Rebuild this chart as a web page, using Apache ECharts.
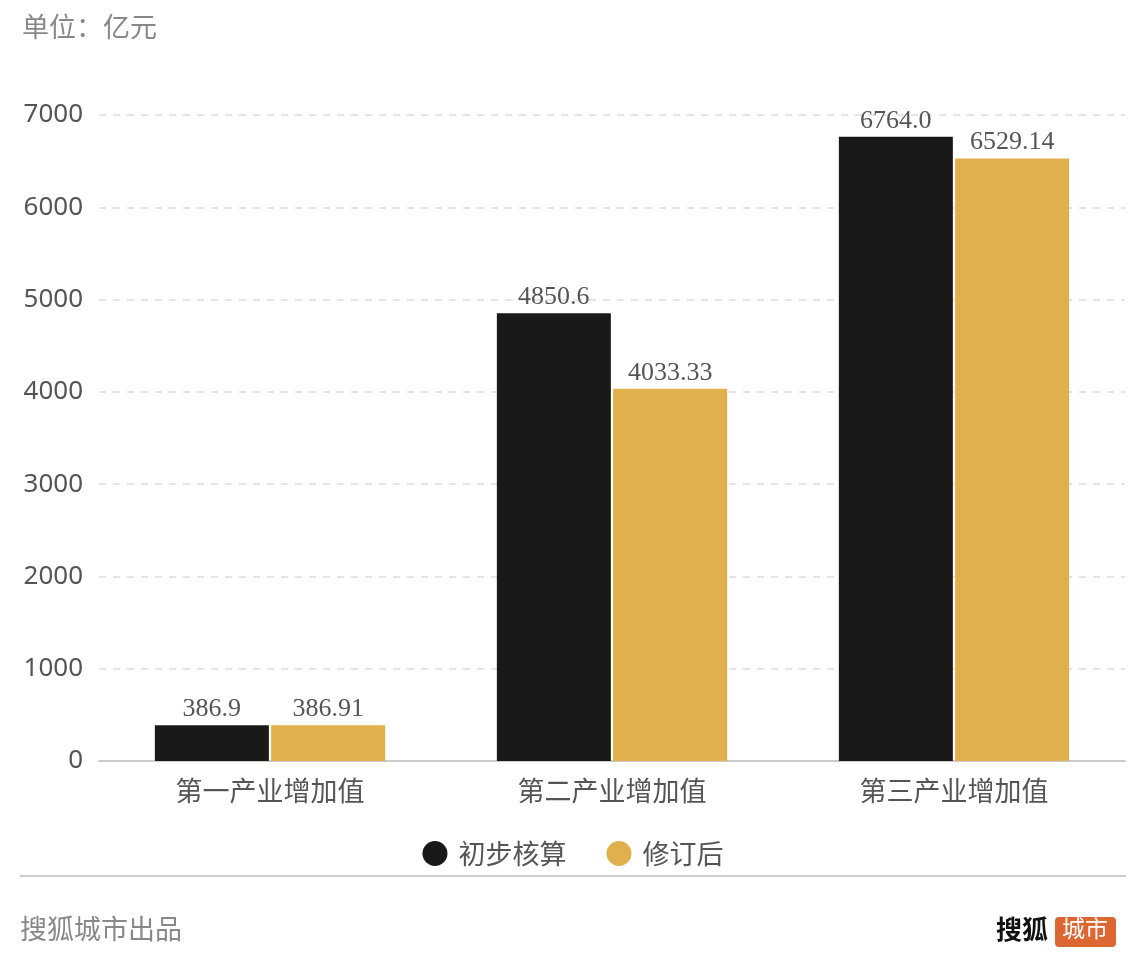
<!DOCTYPE html>
<html><head><meta charset="utf-8">
<script src="https://cdn.jsdelivr.net/npm/echarts@6/dist/echarts.min.js"></script>
<style>html,body{margin:0;padding:0;background:#fff}#c{width:1146px;height:966px}</style>
</head><body><div id="c"></div>
<script>
const categories = ['第一产业增加值', '第二产业增加值', '第三产业增加值'];
const seriesNames = ['初步核算', '修订后'];
const preliminary = [386.9, 4850.6, 6764.0];
const revised = [386.91, 4033.33, 6529.14];
const labelsPrelim = ['386.9', '4850.6', '6764.0'];
const labelsRevised = ['386.91', '4033.33', '6529.14'];

const FONT = '"Noto Sans CJK SC", "Noto Sans", sans-serif';
const chart = echarts.init(document.getElementById('c'), null, {renderer: 'canvas'});
function lbl(arr) {
  return {show: true, position: 'top', distance: 3, color: '#555', fontSize: 26,
    fontFamily: '"Liberation Serif", "DejaVu Serif", serif',
    formatter: p => arr[p.dataIndex]};
}
chart.setOption({
  animation: false,
  textStyle: {fontFamily: FONT},
  grid: {left: 99, right: 21, top: 115, bottom: 205, containLabel: false},
  legend: {
    data: seriesNames, bottom: 94, left: 'center', icon: 'circle', itemWidth: 25, itemHeight: 25,
    itemGap: 40, formatter: n => ' ' + n,
    textStyle: {fontSize: 27, color: '#555', fontFamily: FONT}
  },
  xAxis: {
    type: 'category', data: categories,
    axisLine: {lineStyle: {color: '#ccc', width: 2}},
    axisTick: {alignWithLabel: true, length: 8, lineStyle: {color: '#ccc', width: 2}},
    axisLabel: {fontSize: 27, color: '#555', margin: 16, fontFamily: FONT}
  },
  yAxis: {
    type: 'value', min: 0, max: 7000, interval: 1000,
    axisLine: {show: false}, axisTick: {show: false},
    axisLabel: {fontSize: 26, color: '#555', margin: 16, fontFamily: '"Noto Sans", sans-serif',
      formatter: v => String(v)},
    splitLine: {lineStyle: {color: '#e5e5e5', type: [7, 7], width: 2}}
  },
  series: [
    {name: seriesNames[0], type: 'bar', data: preliminary, barWidth: 114, barGap: '2%',
      itemStyle: {color: '#1a1917'}, label: lbl(labelsPrelim)},
    {name: seriesNames[1], type: 'bar', data: revised, barWidth: 114,
      itemStyle: {color: '#dfb04c'}, label: lbl(labelsRevised)}
  ],
  graphic: [
    {type: 'text', left: 22, top: 13, style: {text: '单位：亿元', fontSize: 27, fill: '#888', fontFamily: FONT}},
    {type: 'line', shape: {x1: 20, y1: 876, x2: 1126, y2: 876}, style: {stroke: '#ccc', lineWidth: 2}},
    {type: 'text', left: 20, top: 915, style: {text: '搜狐城市出品', fontSize: 27, fill: '#888', fontFamily: FONT}},
    {type: 'text', left: 996, top: 916, style: {text: '搜狐', fontSize: 26, fill: '#111', fontWeight: 'bold', fontFamily: FONT}},
    {type: 'rect', shape: {x: 1055, y: 917, width: 61, height: 30, r: 4}, style: {fill: '#dd6733'}},
    {type: 'text', left: 1062, top: 917, style: {text: '城市', fontSize: 23, fill: '#fff', fontFamily: FONT}}
  ]
});
</script></body></html>
